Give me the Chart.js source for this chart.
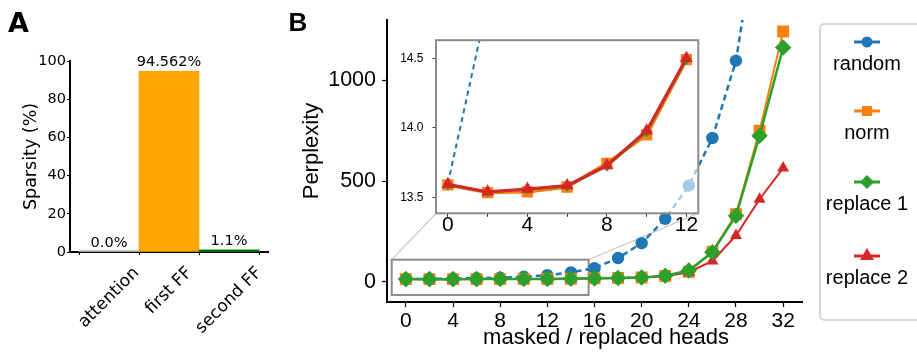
<!DOCTYPE html>
<html>
<head>
<meta charset="utf-8">
<script src="https://cdn.jsdelivr.net/npm/chart.js@4.4.1/dist/chart.umd.min.js"></script>
<style>
  body { margin: 0; background: #fff; }
  #wrap { position: relative; width: 917px; height: 352px; overflow: hidden; background: #fff; }
  canvas { position: absolute; }
</style>
</head>
<body>
<div id="wrap">
  <canvas id="cA" width="290" height="352"></canvas>
  <canvas id="cB" width="627" height="352"></canvas>
  <canvas id="cI" width="325" height="220"></canvas>
</div>
<script>
// panel A data
const parts = ["attention", "first FF", "second FF"];
const sparsity = [0.0, 94.562, 1.1];
const sparsityLabels = ["0.0%", "94.562%", "1.1%"];
const sparsityTicks = [0, 20, 40, 60, 80, 100];

// panel B data
const heads = [0, 2, 4, 6, 8, 10, 12, 14, 16, 18, 20, 22, 24, 26, 28, 30, 32];
const randomPpl = [13.6, 14.9, 16.3, 18.2, 20.5, 25, 33, 47, 68, 118, 192, 313, 478, 714, 1098, 1840, 3000];
const normPpl = [13.59, 13.535, 13.54, 13.575, 13.745, 13.95, 14.49, 15.5, 17.5, 19.5, 22, 29, 50, 150, 336, 750, 1243];
const replace1Ppl = [13.59, 13.54, 13.557, 13.58, 13.725, 13.97, 14.49, 15.4, 17.3, 19.3, 22, 30, 56, 147, 328, 725, 1164];
const replace2Ppl = [13.595, 13.54, 13.56, 13.585, 13.73, 13.98, 14.5, 15.5, 17.4, 19.4, 21.5, 28, 48, 104, 230, 410, 565];
const seriesNames = ["random", "norm", "replace 1", "replace 2"];
const headTicks = [0, 4, 8, 12, 16, 20, 24, 28, 32];
const pplTicks = [0, 500, 1000];
const insetHeadTicks = [0, 2, 4, 6, 8, 10, 12];
const insetPplTicks = [13.5, 14.0, 14.5];
const insetMaxHeads = 12;
const zoomBoxHeads = [-1.2, 15.5];
const zoomBoxPpl = [-65, 110];

const BLUE = "#1f77b4", ORANGE = "#ff7f0e", GREEN = "#2ca02c", RED = "#d62728";
const mainLeft = 290, insetLeft = 390, insetTop = 24;

Chart.defaults.font.family = "'Liberation Sans', Arial, sans-serif";
Chart.defaults.color = "#000";

document.getElementById("cA").style.cssText = "left:0px;top:0px";
document.getElementById("cB").style.cssText = `left:${mainLeft}px;top:0px`;
document.getElementById("cI").style.cssText = `left:${insetLeft}px;top:${insetTop}px`;

function points(values, upTo) {
  const pts = heads.map((h, i) => ({ x: h, y: values[i] }));
  return upTo === undefined ? pts : pts.filter((p) => p.x <= upTo);
}

function setTicks(list) {
  return (scale) => { scale.ticks = list.map((v) => ({ value: v })); };
}

// ---------- panel A ----------
const panelAText = {
  id: "panelAText",
  afterDatasetsDraw(chart) {
    const ctx = chart.ctx;
    const meta = chart.getDatasetMeta(0);
    const y = chart.scales.y;
    ctx.save();
    ctx.fillStyle = "#000";
    ctx.font = "14.5px 'DejaVu Sans'";
    ctx.textAlign = "center";
    meta.data.forEach((bar, i) => {
      ctx.fillText(sparsityLabels[i], bar.x, y.getPixelForValue(sparsity[i]) - 5);
    });
    ctx.restore();
  },
  afterDraw(chart) {
    const ctx = chart.ctx;
    const x = chart.scales.x;
    const area = chart.chartArea;
    ctx.save();
    ctx.fillStyle = "#000";
    ctx.font = "17px 'DejaVu Sans'";
    ctx.textAlign = "center";
    ctx.textBaseline = "middle";
    parts.forEach((p, i) => {
      const w = ctx.measureText(p).width;
      const cx = x.getPixelForValue(i);
      const cy = 265 + (w + 15) * 0.3536;
      ctx.save();
      ctx.translate(cx, cy);
      ctx.rotate(-Math.PI / 4);
      ctx.fillText(p, 0, 0);
      ctx.restore();
    });
    ctx.font = "17.5px 'DejaVu Sans'";
    ctx.save();
    ctx.translate(31, (area.top + area.bottom) / 2);
    ctx.rotate(-Math.PI / 2);
    ctx.fillText("Sparsity (%)", 0, 0);
    ctx.restore();
    ctx.font = "bold 27px 'DejaVu Sans'";
    ctx.textAlign = "left";
    ctx.textBaseline = "alphabetic";
    ctx.fillText("A", 8, 32);
    ctx.restore();
  }
};

new Chart(document.getElementById("cA"), {
  type: "bar",
  data: {
    datasets: [{
      data: sparsity.map((v, i) => ({ x: i, y: v })),
      backgroundColor: ["#cfcfcf", "#ffa500", "#008000"],
      barPercentage: 1,
      categoryPercentage: 1,
      minBarLength: 2
    }]
  },
  options: {
    responsive: false,
    animation: false,
    events: [],
    layout: { padding: { top: 61, right: 22, left: 0, bottom: 0 } },
    plugins: { legend: { display: false }, tooltip: { enabled: false } },
    scales: {
      x: {
        type: "linear", min: -0.65, max: 2.65, offset: false, z: 1,
        afterBuildTicks: setTicks([0, 1, 2]),
        afterFit: (s) => { s.height = 100; },
        ticks: { display: false },
        grid: { drawOnChartArea: false, tickLength: 3, color: "#000", tickWidth: 1 },
        border: { color: "#000", width: 2 }
      },
      y: {
        min: 0, max: 100, z: 1,
        afterBuildTicks: setTicks(sparsityTicks),
        afterFit: (s) => { s.width = 70; },
        ticks: { font: { family: "'DejaVu Sans'", size: 14.5 }, padding: 1, color: "#000" },
        grid: { drawOnChartArea: false, tickLength: 3, color: "#000", tickWidth: 1 },
        border: { color: "#000", width: 2 }
      }
    }
  },
  plugins: [panelAText]
});

// ---------- panel B inset ----------
const insetFrame = {
  id: "insetFrame",
  beforeDraw(chart) {
    const a = chart.chartArea;
    chart.ctx.save();
    chart.ctx.fillStyle = "rgba(255,255,255,0.62)";
    chart.ctx.fillRect(a.left, a.top, a.right - a.left, a.bottom - a.top);
    chart.ctx.restore();
  },
  afterDraw(chart) {
    const a = chart.chartArea;
    chart.ctx.save();
    chart.ctx.strokeStyle = "#8c8c8c";
    chart.ctx.lineWidth = 2;
    chart.ctx.strokeRect(a.left, a.top, a.right - a.left, a.bottom - a.top);
    chart.ctx.restore();
  }
};

const insetChart = new Chart(document.getElementById("cI"), {
  type: "line",
  data: {
    datasets: [
      { label: seriesNames[0], data: points(randomPpl, insetMaxHeads), borderColor: BLUE, borderWidth: 2, borderDash: [5, 4], pointRadius: 0, order: 3 },
      { label: seriesNames[1], data: points(normPpl, insetMaxHeads), borderColor: ORANGE, backgroundColor: ORANGE, borderWidth: 3.5, pointStyle: "rect", pointRadius: 5.5, order: 2 },
      { label: seriesNames[2], data: points(replace1Ppl, insetMaxHeads), borderColor: GREEN, backgroundColor: GREEN, borderWidth: 2.5, pointStyle: "rectRot", pointRadius: 3.5, order: 1 },
      { label: seriesNames[3], data: points(replace2Ppl, insetMaxHeads), borderColor: RED, backgroundColor: RED, borderWidth: 3, pointStyle: "triangle", pointRadius: 4.5, order: 0 }
    ]
  },
  options: {
    responsive: false,
    animation: false,
    events: [],
    layout: { padding: { top: 7.7, right: 16.7, left: 0, bottom: 0 } },
    plugins: { legend: { display: false }, tooltip: { enabled: false } },
    scales: {
      x: {
        type: "linear", min: -0.6, max: 12.6,
        afterBuildTicks: setTicks(insetHeadTicks),
        afterFit: (s) => { s.height = 30.7; },
        ticks: { font: { size: 21 }, padding: -4, maxRotation: 0, autoSkip: false,
          callback: (v) => (v % 4 === 0 ? String(v) : "") },
        grid: { drawOnChartArea: false, tickLength: 3.5, color: "#333", tickWidth: 1 },
        border: { display: false }
      },
      y: {
        min: 13.386, max: 14.63,
        afterBuildTicks: setTicks(insetPplTicks),
        afterFit: (s) => { s.width = 46; },
        ticks: { font: { size: 12 }, padding: 9, callback: (v) => v.toFixed(1) },
        grid: { drawOnChartArea: false, tickLength: 3.5, color: "#333", tickWidth: 1 },
        border: { display: false }
      }
    }
  },
  plugins: [insetFrame]
});

// ---------- panel B main ----------
const legendRowY = [42, 111, 182, 256];
const legendMarker = { circle: 4, rect: 5, rectRot: 5, triangle: 5 };

const mainDecor = {
  id: "mainDecor",
  beforeDatasetsDraw(chart) {
    const { ctx, scales: { x, y } } = chart;
    const l = x.getPixelForValue(zoomBoxHeads[0]);
    const r = x.getPixelForValue(zoomBoxHeads[1]);
    const t = y.getPixelForValue(zoomBoxPpl[1]);
    const b = y.getPixelForValue(zoomBoxPpl[0]);
    const ia = insetChart.chartArea;
    const ox = insetLeft - mainLeft, oy = insetTop;
    ctx.save();
    ctx.strokeStyle = "#c4c4c4";
    ctx.lineWidth = 1.2;
    ctx.beginPath();
    ctx.moveTo(l, t);
    ctx.lineTo(ox + ia.left, oy + ia.bottom);
    ctx.moveTo(r, t);
    ctx.lineTo(ox + ia.right, oy + ia.bottom);
    ctx.stroke();
    ctx.strokeStyle = "#8c8c8c";
    ctx.lineWidth = 2;
    ctx.strokeRect(l, t, r - l, b - t);
    ctx.restore();
  },
  afterDraw(chart) {
    const ctx = chart.ctx;
    ctx.save();
    // legend
    ctx.fillStyle = "#fff";
    ctx.strokeStyle = "#cccccc";
    ctx.lineWidth = 1.5;
    ctx.beginPath();
    ctx.roundRect(530, 24, 130, 296, 4);
    ctx.fill();
    ctx.stroke();
    const cx = 577;
    ctx.font = "20px 'Liberation Sans'";
    ctx.textAlign = "center";
    ctx.textBaseline = "alphabetic";
    seriesNames.forEach((name, i) => {
      const ds = chart.data.datasets.find((d) => d.label === name);
      const yy = legendRowY[i];
      ctx.strokeStyle = ds.borderColor;
      ctx.fillStyle = ds.borderColor;
      ctx.lineWidth = 3;
      ctx.setLineDash([]);
      ctx.beginPath();
      ctx.moveTo(cx - 13, yy);
      ctx.lineTo(cx + 13, yy);
      ctx.stroke();
      const style = ds.pointStyle || "circle";
      Chart.helpers.drawPoint(ctx, { pointStyle: style, radius: legendMarker[style], rotation: 0, borderWidth: 1 }, cx, yy);
      ctx.fillStyle = "#000";
      ctx.fillText(name, cx, yy + 28);
    });
    // axis titles
    ctx.fillStyle = "#000";
    ctx.font = "22px 'Liberation Sans'";
    ctx.fillText("masked / replaced heads", 316, 344);
    ctx.save();
    ctx.translate(22, 151);
    ctx.rotate(-Math.PI / 2);
    ctx.textBaseline = "middle";
    ctx.fillText("Perplexity", 0, 0);
    ctx.restore();
    ctx.font = "bold 26px 'Liberation Sans'";
    ctx.textAlign = "left";
    ctx.fillText("B", -1.5, 31);
    ctx.restore();
  }
};

new Chart(document.getElementById("cB"), {
  type: "line",
  data: {
    datasets: [
      { label: seriesNames[0], data: points(randomPpl), borderColor: BLUE, backgroundColor: BLUE, borderWidth: 2.5, borderDash: [6, 4], pointStyle: "circle", pointRadius: 5, order: 3 },
      { label: seriesNames[1], data: points(normPpl), borderColor: ORANGE, backgroundColor: ORANGE, borderWidth: 2, pointStyle: "rect", pointRadius: 7, order: 2 },
      { label: seriesNames[2], data: points(replace1Ppl), borderColor: GREEN, backgroundColor: GREEN, borderWidth: 2.5, pointStyle: "rectRot", pointRadius: 6.5, order: 0 },
      { label: seriesNames[3], data: points(replace2Ppl), borderColor: RED, backgroundColor: RED, borderWidth: 2, pointStyle: "triangle", pointRadius: 5, order: 1 }
    ]
  },
  options: {
    responsive: false,
    animation: false,
    events: [],
    layout: { padding: { top: 20, right: 115, left: 0, bottom: 0 } },
    plugins: { legend: { display: false }, tooltip: { enabled: false } },
    scales: {
      x: {
        type: "linear", min: -1.6, max: 33.6,
        afterBuildTicks: setTicks(headTicks),
        afterFit: (s) => { s.height = 50; },
        ticks: { font: { size: 21 }, padding: 2, maxRotation: 0, autoSkip: false, callback: (v) => String(v) },
        grid: { drawOnChartArea: false, tickLength: 5, color: "#000", tickWidth: 1.2 },
        border: { color: "#000", width: 2 }
      },
      y: {
        min: -100, max: 1300,
        afterBuildTicks: setTicks(pplTicks),
        afterFit: (s) => { s.width = 97; },
        ticks: { font: { size: 21.5 }, padding: 6, callback: (v) => String(v) },
        grid: { drawOnChartArea: false, tickLength: 5, color: "#000", tickWidth: 1.2 },
        border: { color: "#000", width: 2 }
      }
    }
  },
  plugins: [mainDecor]
});
</script>
</body>
</html>
